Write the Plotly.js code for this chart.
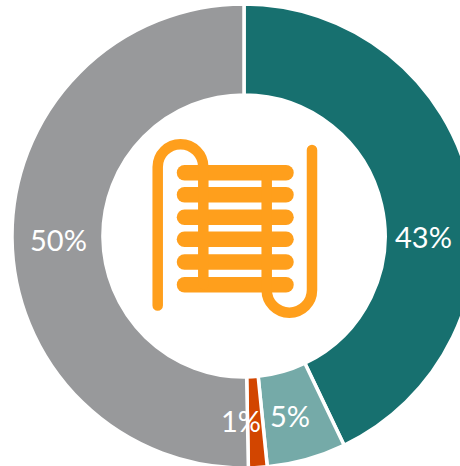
<!DOCTYPE html>
<html><head><meta charset="utf-8">
<script src="https://cdn.plot.ly/plotly-3.0.1.min.js"></script>
<style>
html,body{margin:0;padding:0;width:460px;height:466px;overflow:hidden;background:#fff}
#wrap{position:absolute;left:0;top:0;width:460px;height:466px;overflow:hidden}
#chart{position:absolute;left:12px;top:4px}
#chart .shapelayer path{stroke-linecap:round;stroke-linejoin:round}
</style></head><body>
<div id="wrap"><div id="chart"></div></div>
<script>
const categories = ['Dark teal','Light teal','Orange','Grey'];
const values = [42.9,5.5,1.3,50.3];
const percentLabels = ['43%','5%','1%','50%'];
const colors = ['#17706f','#75aaa8','#d24500','#98999b'];
const labelPixels = [[423,236],[290,415],[241,420],[58,239]];
const rowY = [172.7,194.7,217.3,239.3,262,284.7];

const SIZE = 464, LEFT = 12, TOP = 4;
const px = x => (x-LEFT)/SIZE;
const py = y => 1-(y-TOP)/SIZE;
const pt = (x,y) => px(x)+' '+py(y);
const orange = '#ff9f1c';
function tube(path,w){return {type:'path',xref:'paper',yref:'paper',layer:'above',path:path,line:{color:orange,width:w},fillcolor:'rgba(0,0,0,0)'};}

const shapes = [];
rowY.forEach(y=>shapes.push(tube('M'+pt(184.5,y)+' L'+pt(286,y),15.5)));
const k = 0.5523;
const r1 = 22.8, xa=157.7, xb=203.3, yc=167;
shapes.push(tube('M'+pt(xa,305.5)+' L'+pt(xa,yc)+
  ' C'+pt(xa,yc-k*r1)+' '+pt(xa+r1-k*r1,yc-r1)+' '+pt(xa+r1,yc-r1)+
  ' C'+pt(xa+r1+k*r1,yc-r1)+' '+pt(xb,yc-k*r1)+' '+pt(xb,yc)+
  ' L'+pt(xb,284),10.5));
const r2 = 22.7, xc=266.7, xd=312, yd=290;
shapes.push(tube('M'+pt(xc,173)+' L'+pt(xc,yd)+
  ' C'+pt(xc,yd+k*r2)+' '+pt(xc+r2-k*r2,yd+r2)+' '+pt(xc+r2,yd+r2)+
  ' C'+pt(xc+r2+k*r2,yd+r2)+' '+pt(xd,yd+k*r2)+' '+pt(xd,yd)+
  ' L'+pt(xd,150),10.5));

const annotations = percentLabels.map((t,i)=>({
  text:t,xref:'paper',yref:'paper',x:px(labelPixels[i][0]),y:py(labelPixels[i][1]),
  xanchor:'center',yanchor:'middle',showarrow:false,
  font:{family:'Lato, Carlito, sans-serif',size:29,color:'#ffffff'}
}));

Plotly.newPlot('chart',[{
  type:'pie',labels:categories,values:values,hole:0.608,sort:false,direction:'clockwise',rotation:0,
  marker:{colors:colors,line:{color:'#ffffff',width:3.5}},textinfo:'none',hoverinfo:'label+percent',showlegend:false
}],{
  width:SIZE,height:SIZE,margin:{l:0,r:0,t:0,b:0},paper_bgcolor:'rgba(0,0,0,0)',showlegend:false,
  shapes:shapes,annotations:annotations
},{displayModeBar:false,staticPlot:true});
</script></body></html>
